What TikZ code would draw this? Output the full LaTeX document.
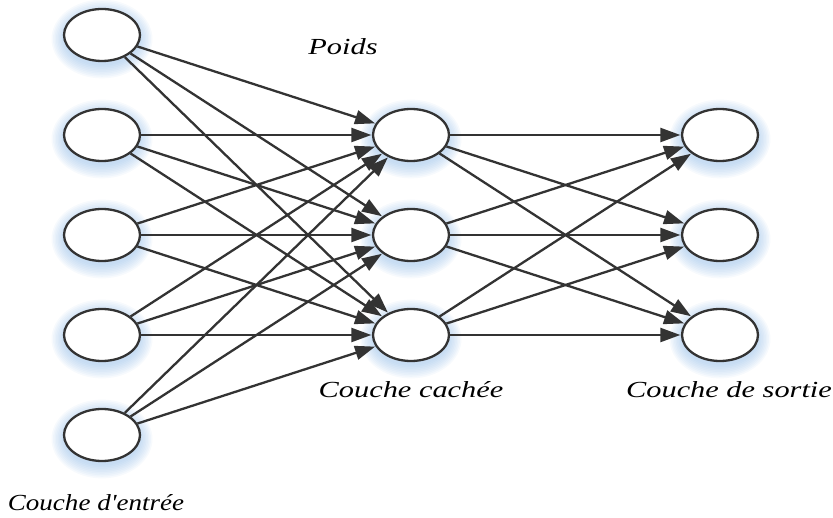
\documentclass[tikz,border=0pt]{standalone}
\usepackage{fontspec}
\newfontfamily\lserif{Liberation Serif}
\usetikzlibrary{arrows.meta,shapes.geometric}
\definecolor{ink}{HTML}{333333}
\definecolor{glowc}{HTML}{8DB8E6}
\begin{document}
\begin{tikzpicture}[x=1pt,y=-1pt,
  neuron/.style={ellipse, draw=ink, line width=2.3pt, fill=white, minimum width=76pt, minimum height=52pt, inner sep=0pt},
  conn/.style={draw=ink, line width=2.3pt, -{Triangle[length=20pt,width=14pt]}, shorten >=0.5pt},
  lbl/.style={font=\lserif\itshape\fontsize{23}{26}\selectfont, text=black, xscale=1.32, transform shape}]
\useasboundingbox (0,0) rectangle (833,518);
% glow
\foreach \x/\y in {102/35,102/135,102/235,102/335,102/435,411/135,411/235,411/335,720/135,720/235,720/335}{
  \foreach \i in {1,...,9}{
    \fill[glowc, opacity=0.07] (\x,\y+4) ellipse [x radius={37+1.5*\i}, y radius={25+1.6*\i}];
  }
}
% nodes
\node[neuron] (i1) at (102,35) {};
\node[neuron] (i2) at (102,135) {};
\node[neuron] (i3) at (102,235) {};
\node[neuron] (i4) at (102,335) {};
\node[neuron] (i5) at (102,435) {};
\node[neuron] (h1) at (411,135) {};
\node[neuron] (h2) at (411,235) {};
\node[neuron] (h3) at (411,335) {};
\node[neuron] (o1) at (720,135) {};
\node[neuron] (o2) at (720,235) {};
\node[neuron] (o3) at (720,335) {};
% connections
\foreach \a in {1,...,5}{\foreach \b in {1,2,3}{\draw[conn] (i\a) -- (h\b);}}
\foreach \a in {1,2,3}{\foreach \b in {1,2,3}{\draw[conn] (h\a) -- (o\b);}}
% labels
\node[lbl] (poids) at (343,47) {Poids};
\node[lbl] (lh) at (411,390) {Couche cachée};
\node[lbl] (lo) at (729,390) {Couche de sortie};
\node[lbl, xscale=0.89] (li) at (96,503) {Couche d'entrée};
\end{tikzpicture}
\end{document}
